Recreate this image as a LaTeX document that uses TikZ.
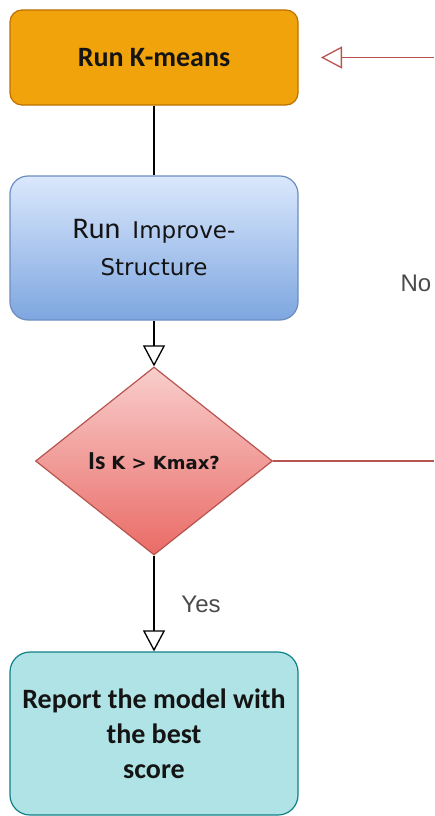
\documentclass[tikz,border=0pt]{standalone}
\usepackage{fontspec}
\setmainfont{Carlito}
\newfontfamily\dejavu{DejaVu Sans}
\newfontfamily\labelfont{Liberation Sans}
\usetikzlibrary{shapes.geometric,arrows.meta}

\definecolor{orangefill}{HTML}{F0A30A}
\definecolor{orangeline}{HTML}{BD7000}
\definecolor{bluetop}{HTML}{DAE8FC}
\definecolor{bluebot}{HTML}{7EA6E0}
\definecolor{blueline}{HTML}{6C8EBF}
\definecolor{redtop}{HTML}{F8CECC}
\definecolor{redbot}{HTML}{EA6B66}
\definecolor{redline}{HTML}{B85450}
\definecolor{tealfill}{HTML}{B0E3E6}
\definecolor{tealline}{HTML}{0E8088}
\definecolor{textdark}{HTML}{141414}
\definecolor{labelgrey}{HTML}{4A4A4A}

\newcommand{\fs}[2]{\fontsize{#1}{#2}\selectfont}

\tikzset{
  box/.style={rectangle, minimum width=288pt, inner sep=0pt, line width=1.2pt,
              align=center, text=textdark},
  flow/.style={line width=1.3pt, draw=black},
  opentip/.style={-{Triangle[open, length=21pt, width=22pt, line width=1.3pt]}},
  edgelabel/.style={font=\labelfont\fs{24}{28}, text=labelgrey, inner sep=0pt},
}

\begin{document}
\begin{tikzpicture}[x=1pt, y=-1pt]
  \useasboundingbox (0,0) rectangle (434,816);

  % process boxes
  \node[box, rounded corners=12pt, minimum height=95pt, fill=orangefill, draw=orangeline,
        font=\bfseries\fs{28}{34}] (kmeans) at (154,57.5) {Run K-means};

  \node[box, rounded corners=18pt, minimum height=144pt, top color=bluetop, bottom color=bluebot,
        draw=blueline, font=\fs{30}{37}] (improve) at (154,248)
        {Run\hspace{12pt}{\dejavu\fs{23}{37}Improve-}\\{\dejavu\fs{23}{37}Structure}};

  % decision
  \node[diamond, minimum width=237pt, minimum height=188pt, inner sep=0pt, line width=1.2pt,
        top color=redtop, bottom color=redbot, draw=redline, text=textdark,
        font=\bfseries\fs{26}{30}] (test) at (154,461)
        {Is {\dejavu\fs{18}{30}K > Kmax?}};

  \node[box, rounded corners=20pt, minimum height=163pt, fill=tealfill, draw=tealline,
        font=\bfseries\fs{28}{35}] (report) at (154,733.5)
        {Report the model with\\the best\\score};

  % loop-back ends
  \coordinate (loopin) at (434,57.5);
  \coordinate (loophead) at (321,57.5);
  \coordinate (loopout) at (434,461);

  % connectors
  \draw[flow] (kmeans) -- (improve);
  \draw[flow, opentip] (improve) -- (test);
  \draw[flow, opentip] (test) -- (report);
  \draw[line width=1.3pt, draw=redline] (test.east) -- (loopout);
  \draw[line width=1.3pt, draw=redline, opentip] (loopin) -- (loophead);

  % branch labels
  \node[edgelabel] (yes) at (201,604) {Yes};
  \node[edgelabel] (no) at (416,283) {No};
\end{tikzpicture}
\end{document}
